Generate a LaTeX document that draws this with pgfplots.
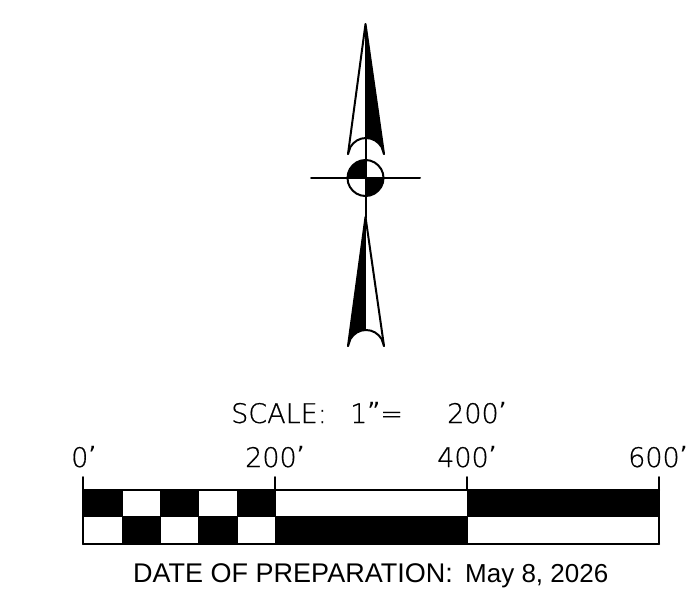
\documentclass[border=0pt]{standalone}
\usepackage{fontspec}
\usepackage{pgfplots}
\pgfplotsset{compat=1.18}
\newfontfamily\datefont{Liberation Sans}
\newfontfamily\cadfont[FakeBold=0.6]{DejaVu Sans ExtraLight}
\newfontfamily\markfont{DejaVu Sans}
\newcommand{\cad}{\cadfont\fontsize{27}{27}\selectfont}
\newcommand{\ft}{\raisebox{3pt}{\markfont\fontsize{25}{25}\selectfont’}}
\pgfplotsset{
  ink/.style={black,line width=2pt,line cap=round,line join=round,mark=none,forget plot},
  solid fill/.style={fill=black,draw=black,line width=0.6pt,mark=none,forget plot},
}
\begin{document}
\begin{tikzpicture}
\useasboundingbox (0,0) rectangle (691pt,600pt);
\begin{axis}[
    at={(0,0)},anchor=south west,
    scale only axis,
    width=691pt,height=600pt,
    xmin=0,xmax=691,ymin=0,ymax=600,
    y dir=reverse,
    hide axis,
    clip=false,
]
% north arrow, upper half
\addplot[solid fill] coordinates {(365.5,24) (384,154) (381.6,147) (378.7,143.3) (375,140.4) (370.7,138.6) (365.5,138)} -- cycle;
\addplot[ink] coordinates {(348,154) (365.5,24) (384,154)};
\addplot[ink] coordinates {(348,154) (350.4,147) (353.3,143.3) (357,140.4) (361.3,138.6) (366,138) (370.7,138.6) (375,140.4) (378.7,143.3) (381.6,147) (384,154)};
% lower half
\addplot[solid fill] coordinates {(365.5,217) (348,346) (350.4,339) (353.3,335.3) (357,332.4) (361.3,330.6) (365.5,330)} -- cycle;
\addplot[ink] coordinates {(348,346) (365.5,217) (384,346)};
\addplot[ink] coordinates {(348,346) (350.4,339) (353.3,335.3) (357,332.4) (361.3,330.6) (366,330) (370.7,330.6) (375,332.4) (378.7,335.3) (381.6,339) (384,346)};
% centre circle and cross
\addplot[solid fill] coordinates {(365.5,178) (347.5,178) (348.1,173.3) (349.9,169) (352.8,165.3) (356.5,162.4) (360.8,160.6) (365.5,160)} -- cycle;
\addplot[solid fill] coordinates {(365.5,178) (383.5,178) (382.9,182.7) (381.1,187) (378.2,190.7) (374.5,193.6) (370.2,195.4) (365.5,196)} -- cycle;
\addplot[ink] coordinates {(383.5,178) (382.9,173.3) (381.1,169) (378.2,165.3) (374.5,162.4) (370.2,160.6) (365.5,160) (360.8,160.6) (356.5,162.4) (352.8,165.3) (349.9,169) (348.1,173.3) (347.5,178) (348.1,182.7) (349.9,187) (352.8,190.7) (356.5,193.6) (360.8,195.4) (365.5,196) (370.2,195.4) (374.5,193.6) (378.2,190.7) (381.1,187) (382.9,182.7) (383.5,178)};
\addplot[ink] coordinates {(311,178) (420,178)};
\addplot[ink] coordinates {(365.5,138) (365.5,218)};
% scale bar, top row
\addplot[solid fill] coordinates {(83,490) (122,490) (122,516.5) (83,516.5)} -- cycle;
\addplot[solid fill] coordinates {(160,490) (198,490) (198,516.5) (160,516.5)} -- cycle;
\addplot[solid fill] coordinates {(237,490) (275,490) (275,516.5) (237,516.5)} -- cycle;
\addplot[solid fill] coordinates {(467,490) (659,490) (659,516.5) (467,516.5)} -- cycle;
% bottom row
\addplot[solid fill] coordinates {(122,516.5) (160,516.5) (160,544) (122,544)} -- cycle;
\addplot[solid fill] coordinates {(198,516.5) (237,516.5) (237,544) (198,544)} -- cycle;
\addplot[solid fill] coordinates {(275,516.5) (467,516.5) (467,544) (275,544)} -- cycle;
% outline and ticks
\addplot[ink] coordinates {(83,490) (659,490)};
\addplot[ink] coordinates {(83,544) (659,544)};
\addplot[ink] coordinates {(83,477) (83,544)};
\addplot[ink] coordinates {(275,477) (275,490)};
\addplot[ink] coordinates {(467,477) (467,490)};
\addplot[ink] coordinates {(659,477) (659,544)};
% text
\node[anchor=base west,inner sep=0pt] at (axis cs:231,423) {\cad SCALE:};
\node[anchor=base west,inner sep=0pt] at (axis cs:350,423) {\cad 1\raisebox{3pt}{\markfont\fontsize{25}{25}\selectfont”}=};
\node[anchor=base west,inner sep=0pt] at (axis cs:447,423) {\cad 200\ft};
\node[anchor=base west,inner sep=0pt] at (axis cs:71,467) {\cad 0\ft};
\node[anchor=base west,inner sep=0pt] at (axis cs:245,467) {\cad 200\ft};
\node[anchor=base west,inner sep=0pt] at (axis cs:437,467) {\cad 400\ft};
\node[anchor=base west,inner sep=0pt] at (axis cs:628,467) {\cad 600\ft};
\node[anchor=base west,inner sep=0pt] at (axis cs:133,582) {\datefont\fontsize{27}{27}\selectfont DATE OF PREPARATION:};
\node[anchor=base west,inner sep=0pt] at (axis cs:465,582) {\datefont\fontsize{26}{26}\selectfont May 8, 2026};
\end{axis}
\end{tikzpicture}
\end{document}
